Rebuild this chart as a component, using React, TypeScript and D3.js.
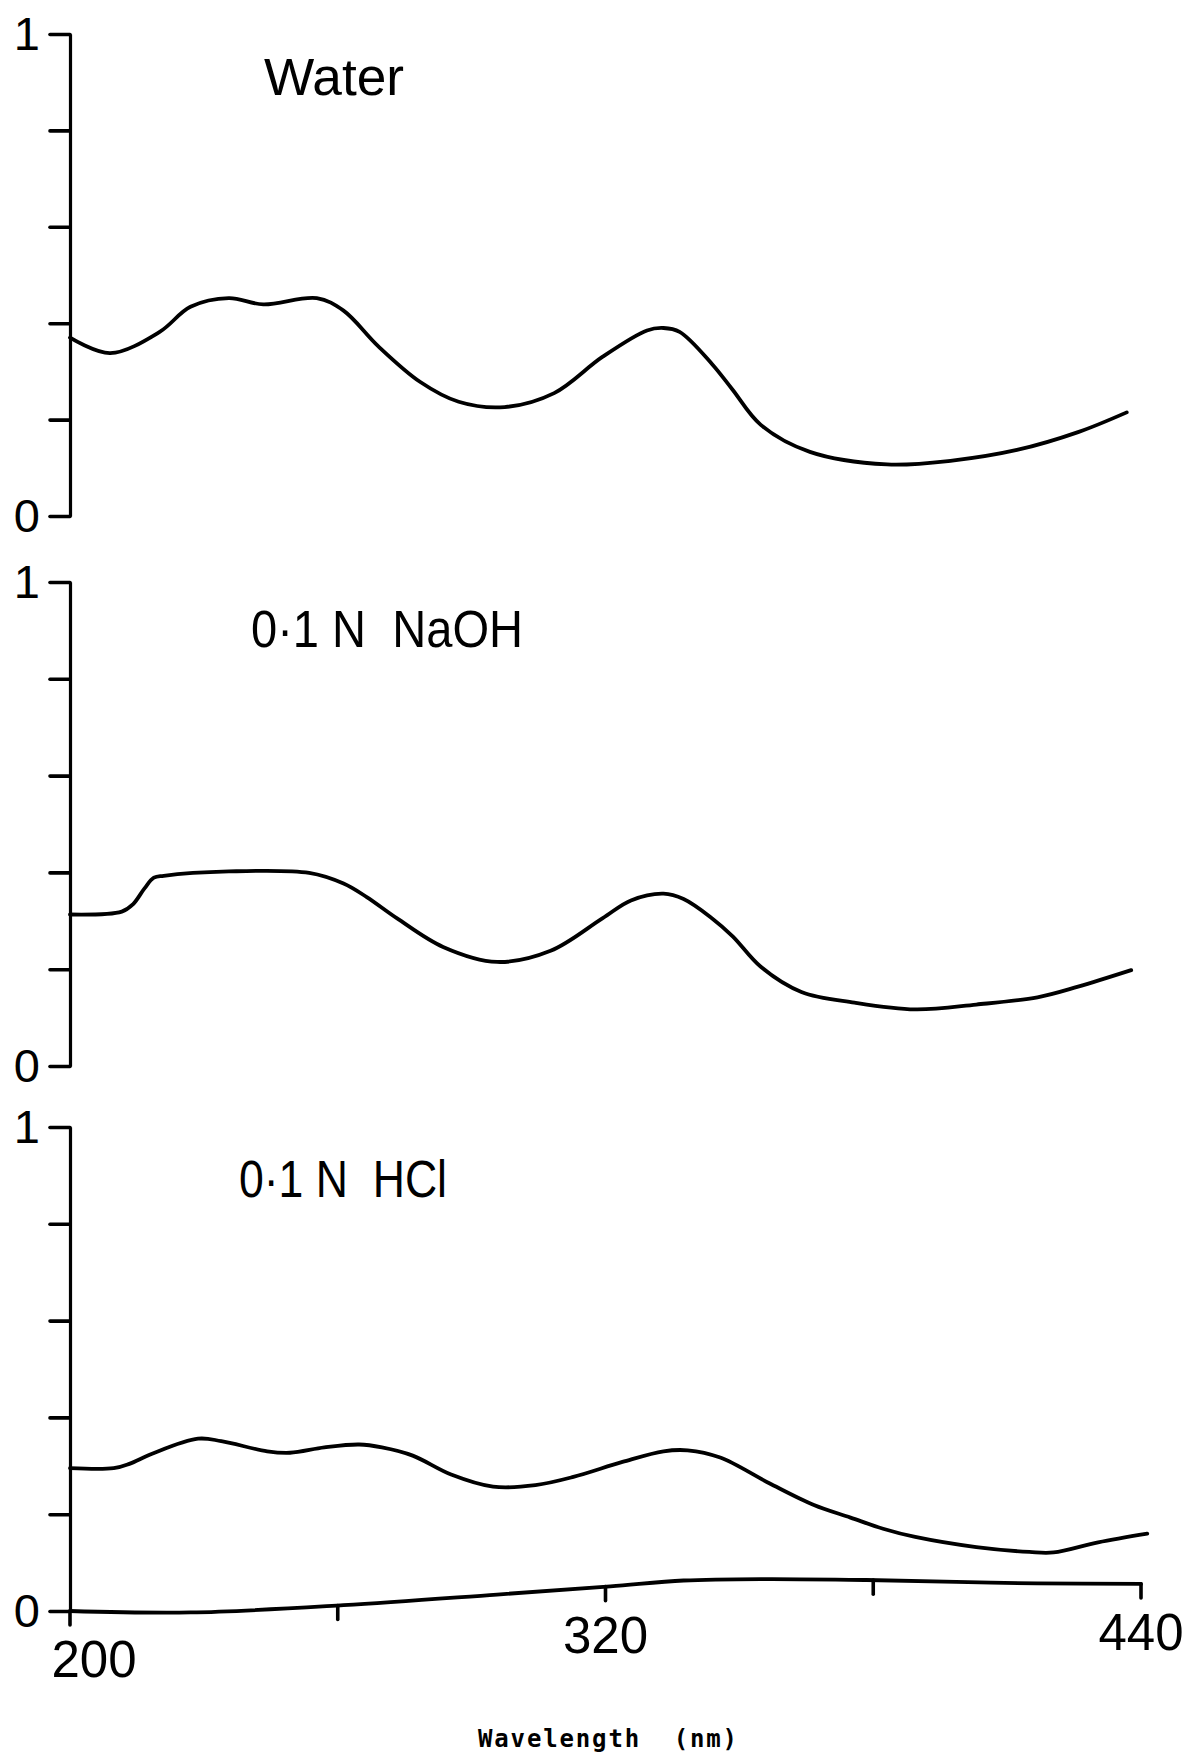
import React, { useEffect, useRef } from 'react';
import * as d3 from 'd3';

const WIDTH = 1187;
const HEIGHT = 1760;

// Absorption spectra: wavelength (nm) and absorbance for each solvent
const waterWavelength = [200, 209, 220.1, 227, 235.6, 243.3, 255.3, 261.3, 269.1, 278.5, 287.1, 297.4, 308.5, 319.3, 329.3, 333, 336.6, 343.9, 348.4, 354.8, 365.8, 383.1, 397.7, 412.2, 425.9, 436.8];
const waterAbsorbance = [0.370, 0.338, 0.382, 0.434, 0.452, 0.439, 0.452, 0.426, 0.352, 0.278, 0.237, 0.226, 0.255, 0.330, 0.385, 0.390, 0.382, 0.315, 0.263, 0.189, 0.133, 0.107, 0.115, 0.137, 0.174, 0.215];

const naohWavelength = [200, 211.6, 214.1, 216.7, 218.8, 221, 235.6, 253.6, 261.3, 266.5, 273.3, 283.6, 295.7, 307.7, 319.3, 325.7, 333, 337.5, 343.9, 348.5, 354.8, 363.9, 375.8, 389.4, 403.1, 416.8, 425.9, 437.8];
const naohAbsorbance = [0.313, 0.319, 0.334, 0.367, 0.389, 0.393, 0.402, 0.399, 0.377, 0.349, 0.305, 0.246, 0.215, 0.238, 0.305, 0.342, 0.356, 0.345, 0.305, 0.268, 0.205, 0.153, 0.131, 0.117, 0.127, 0.142, 0.164, 0.198];

const hclWavelength = [200, 209.8, 213.3, 218.4, 228.7, 233.9, 244.2, 249.3, 257, 264.8, 269.9, 276.8, 285.4, 294.8, 304.3, 312.8, 323.8, 333, 338.4, 345.7, 356.7, 366.7, 374.9, 382.2, 389.4, 403.1, 415, 420.4, 430.4, 441.4];
const hclAbsorbance = [0.295, 0.295, 0.304, 0.325, 0.356, 0.351, 0.330, 0.327, 0.338, 0.344, 0.338, 0.321, 0.282, 0.257, 0.260, 0.277, 0.308, 0.330, 0.332, 0.317, 0.264, 0.219, 0.193, 0.170, 0.153, 0.132, 0.122, 0.121, 0.142, 0.160];

// Baseline trace under the HCl spectrum
const baselineWavelength = [200, 227, 261.3, 295.7, 321.1, 337.5, 355.7, 378.5, 398.6, 416.8, 440];
const baselineAbsorbance = [0, -0.003, 0.012, 0.034, 0.051, 0.063, 0.066, 0.064, 0.060, 0.057, 0.056];

const panelLabels = ['Water', '0\u00b71 N  NaOH', '0\u00b71 N  HCl'];

const yTickValues = [0, 0.2, 0.4, 0.6, 0.8, 1];
const yTickLabels = ['0', '', '', '', '', '1'];

const xTickValues = [200, 260, 320, 380, 440];
const xTickLabels = ['200', '', '320', '', '440'];

const xAxisTitle = 'Wavelength  (nm)';

// Layout
const plotLeft = 70;
const plotRight = 1141;
const panelBoxes = [
  { top: 34, bottom: 516, labelX: 264, labelY: 95, labelW: 140 },
  { top: 582, bottom: 1066, labelX: 251, labelY: 647, labelW: 272 },
  { top: 1127, bottom: 1611, labelX: 239, labelY: 1197, labelW: 208 },
];
const FONT = "'Liberation Sans', Arial, Helvetica, sans-serif";

function zip(xs: number[], ys: number[]): [number, number][] {
  return xs.map((v, i) => [v, ys[i]]);
}

export default function App() {
  const ref = useRef<SVGSVGElement>(null);

  useEffect(() => {
    const svg = d3.select(ref.current);
    svg.selectAll('*').remove();

    const x = d3.scaleLinear().domain([200, 440]).range([plotLeft, plotRight]);

    const panels = [
      { series: [zip(waterWavelength, waterAbsorbance)] },
      { series: [zip(naohWavelength, naohAbsorbance)] },
      { series: [zip(hclWavelength, hclAbsorbance), zip(baselineWavelength, baselineAbsorbance)] },
    ];

    panels.forEach((p, i) => {
      const box = panelBoxes[i];
      const y = d3.scaleLinear().domain([0, 1]).range([box.bottom, box.top]);
      const g = svg.append('g');

      const axis = d3
        .axisLeft(y)
        .tickValues(yTickValues)
        .tickSize(20)
        .tickSizeOuter(0)
        .tickPadding(10)
        .tickFormat((_d, k) => yTickLabels[k]);

      const ag = g.append('g').attr('transform', `translate(${x(200)},0)`).call(axis);
      ag.select('.domain').attr('stroke', '#000').attr('stroke-width', 3.2);
      ag.selectAll('.tick line').attr('stroke', '#000').attr('stroke-width', 3.6).attr('stroke-linecap', 'round');
      ag.selectAll('.tick text')
        .attr('font-size', 47)
        .attr('font-family', FONT)
        .attr('fill', '#000');

      const line = d3
        .line<[number, number]>()
        .x((d) => x(d[0]))
        .y((d) => y(d[1]))
        .curve(d3.curveCatmullRom.alpha(0.5));

      p.series.forEach((s) => {
        g.append('path')
          .attr('d', line(s) as string)
          .attr('fill', 'none')
          .attr('stroke', '#000')
          .attr('stroke-width', 3.8)
          .attr('stroke-linejoin', 'round')
          .attr('stroke-linecap', 'round');
      });

      g.append('text')
        .attr('x', box.labelX)
        .attr('y', box.labelY)
        .attr('font-family', FONT)
        .attr('font-size', 51)
        .attr('textLength', box.labelW)
        .attr('lengthAdjust', 'spacingAndGlyphs')
        .style('white-space', 'pre')
        .attr('fill', '#000')
        .text(panelLabels[i]);

      if (i === panels.length - 1) {
        // wavelength ticks hang from the baseline trace
        const base = d3.scaleLinear().domain(baselineWavelength).range(baselineAbsorbance);
        const tg = g.append('g');
        xTickValues.forEach((v, k) => {
          const ty = y(base(v));
          tg.append('line')
            .attr('x1', x(v))
            .attr('x2', x(v))
            .attr('y1', ty)
            .attr('y2', ty + 14)
            .attr('stroke', '#000')
            .attr('stroke-width', 3.6)
            .attr('stroke-linecap', 'round');
          if (xTickLabels[k]) {
            tg.append('text')
              .attr('x', x(v) + (k === 0 ? 24 : 0))
              .attr('y', ty + 66)
              .attr('text-anchor', 'middle')
              .attr('font-family', FONT)
              .attr('font-size', 51)
              .attr('fill', '#000')
              .text(xTickLabels[k]);
          }
        });

        svg.append('text')
          .attr('x', 478)
          .attr('y', 1747)
          .attr('font-family', "'DejaVu Sans Mono', monospace")
          .attr('font-weight', 'bold')
          .attr('font-size', 24)
          .attr('textLength', 259)
          .attr('lengthAdjust', 'spacing')
          .style('white-space', 'pre')
          .attr('fill', '#000')
          .text(xAxisTitle);
      }
    });
  }, []);

  return (
    <svg
      ref={ref}
      width={WIDTH}
      height={HEIGHT}
      style={{ position: 'absolute', left: 0, top: 0, background: '#fff' }}
    />
  );
}
